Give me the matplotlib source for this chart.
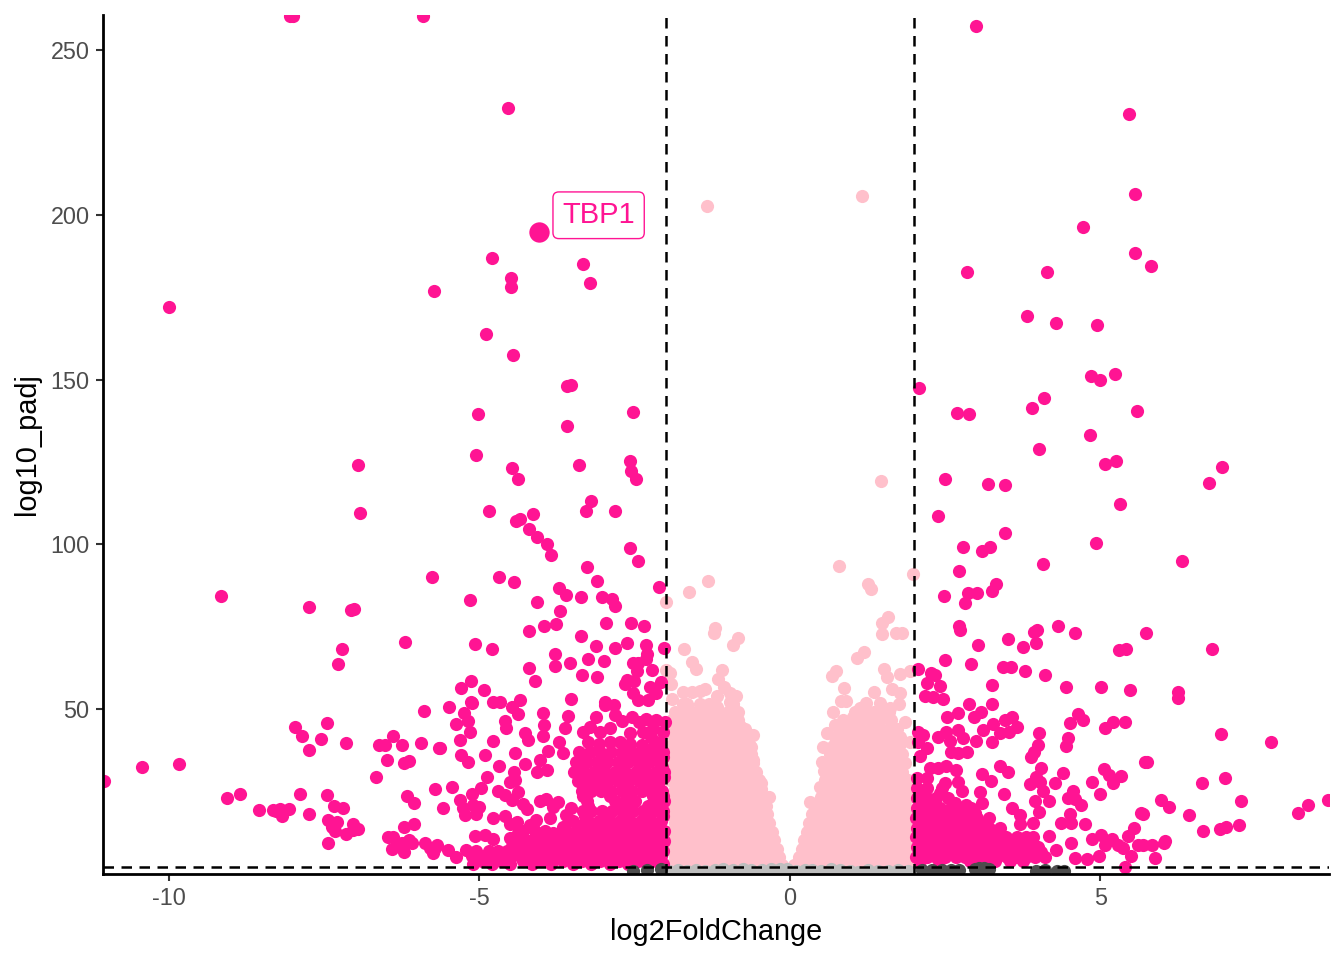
import matplotlib
matplotlib.use("Agg")
from matplotlib import pyplot as plt

plt.rcParams['font.family'] = ['Liberation Sans', 'DejaVu Sans']
plt.rcParams['axes.unicode_minus'] = False

# significant genes, left side, read one by one
sig_left = [(-8.05,260.5),(-8.0,260.5),(-5.9,260.5),(-4.54,232.5),(-4.8,187),(-4.49,181),(-4.49,178),(-3.33,185),
    (-3.22,179.3),(-5.73,177),(-10,172),(-4.9,164),(-4.46,157.5),(-3.59,148),(-3.53,148.3),(-5.02,139.6),(-2.53,140.2),
    (-3.59,136),(-5.06,127),(-2.58,125.2),(-2.56,122.2),(-2.48,119.8),(-4.48,123.2),(-4.38,119.8),(-6.96,124),(-3.4,124),
    (-3.2,113),(-3.28,110),(-2.82,110),(-4.85,110),(-6.92,109.5),(-4.41,107.2),(-4.35,107.8),(-4.13,109.1),(-4.2,104.7),
    (-4.07,102.3),(-3.91,100),(-3.85,96.8),(-2.57,98.9),(-2.44,95),(-3.27,93.2),(-3.1,88.9),(-5.77,90),(-4.69,90),
    (-4.44,88.5),(-3.72,86.8),(-3.6,84.5),(-3.36,84),(-5.15,83),(-4.08,82.4),(-3.03,84),(-2.87,83.5),(-2.82,81.4),
    (-2.1,87),(-3.7,79.7),(-3.96,75.1),(-3.77,75.8),(-4.2,73.8),(-2.96,76.2),(-2.56,76.2),(-2.35,75.3),(-3.36,72.3),
    (-5.07,69.7),(-4.8,68.3),(-3.12,69.1),(-2.82,68.5),(-2.62,70),(-2.31,69.3),(-2.03,68.5),(-3.79,66.8),(-2.3,66.8),
    (-2.32,65.3),(-3.25,65.3),(-3.0,64.5),(-3.54,63.9),(-3.79,63.2),(-4.2,62.3),(-2.52,63.9),(-2.44,63.9),(-2.46,61.6),
    (-2.22,61.8),(-3.35,60.3),(-3.11,59.7),(-4.11,58.6),(-5.13,58.4),(-5.3,56.3),(-4.92,55.9),(-2.63,58.8),(-2.51,58.6),
    (-2.66,57.5),(-2.25,56.6),(-2.07,58.3),(-2.52,55),(-2.15,55),(-4.34,52.7),(-3.52,53),(-4.78,52.2),(-4.66,52.2),
    (-5.13,52.2),(-2.98,52.2),(-5.49,50.5),(-5.12,51.7),(-4.48,50.5),(-4.37,48.4),(-5.24,48.7),(-5.18,46.4),(-5.38,45.5),
    (-5.15,43.1),(-5.31,40.6),(-5.63,38.3),(-4.58,46.3),(-4.57,44.3),(-3.98,48.7),(-3.96,45.1),(-3.97,41.9),(-4.26,42.6),
    (-4.22,40.6),(-4.78,40.2),(-3.57,47.9),(-3.62,44.1),(-3.71,39.9),(-3.9,37.3),(-3.66,36.5),(-4.43,36.5),(-5.3,36),
    (-5.19,33.8),(-4.91,36),(-4.69,32.6),(-4.27,33.2),(-4.03,34.5),(-4.08,31),(-3.91,31.5),(-4.44,31),(-4.88,29.3),
    (-4.51,27.7),(-4.43,28.4),(-5.44,26.2),(-5.72,25.7),(-4.98,25.9),(-4.7,25.1),(-4.38,24.9),(-5.12,24.2),(-5.31,22.4),
    (-4.59,23.9),(-4.48,22.4),(-5.58,20),(-5.26,19.9),(-5.0,20.3),(-5.1,20.8),(-5.23,17.8),(-5.06,18.1),(-4.29,21.2),
    (-4.24,19.6),(-4.03,22.2),(-3.92,22.6),(-3.73,21.9),(-3.81,20.3),(-3.86,16.8),(-3.52,19.9),(-3.6,17.8),(-3.65,14.3),
    (-4.78,17),(-4.59,17.5),(-4.51,15.1),(-4.39,15.8),(-4.19,14.8),(-4.09,16.3),(-4.13,13.8),(-3.81,12.3),(-5.07,11.4),
    (-4.91,11.8),(-4.78,10.4),(-4.51,10.7),(-4.38,12.4),(-5.72,7.8),(-5.51,7.2),(-5.37,5.2),(-5.21,7.2),
    (-5.89,49.5),(-7.46,45.7),(-7.97,44.5),(-7.86,41.8),(-7.55,40.8),(-7.75,37.6),(-7.14,39.6),(-6.61,39),(-6.52,39),
    (-6.39,41.9),(-6.24,39),(-5.94,39.6),(-5.65,38.1),(-6.48,34.4),(-6.22,33.7),(-6.14,34.3),(-6.66,29.4),(-6.17,23.5),
    (-6.05,21.5),(-6.06,15),(-6.22,14.1),(-6.47,11),(-6.39,11.2),(-6.33,9.2),(-6.4,7.4),(-6.22,6.7),(-6.13,10.2),
    (-6.09,9.2),(-6.25,9.2),(-5.88,9.4),(-5.8,7.7),(-5.74,6.2),(-5.69,8.7),(-10.43,32.3),(-9.83,33.3),(-11.05,28.1),
    (-9.07,23),(-8.86,24.1),(-8.55,19.3),(-8.33,19.3),(-8.21,19.5),(-8.07,19.7),(-8.17,17.6),(-8.27,19.1),(-7.89,24.3),
    (-7.75,18),(-7.45,24),(-7.34,20.6),(-7.19,20),(-7.43,16.3),(-7.29,15.8),(-7.38,14.3),(-7.33,13),(-7.44,9.2),(-7.15,12),
    (-7.03,15),(-6.95,13.6),(-7.04,13.3),(-9.16,84.3),(-7.75,81),(-7.07,80),(-7.02,80.4),(-7.21,68.2),(-7.28,63.7),(-6.2,70.3),
    (-2.98,51.2),(-2.84,51.2),(-2.82,48.2),(-2.9,44.1),(-3.13,47.7),(-3.33,43.1),(-3.22,44.6),(-3.06,43.1),(-2.44,52.8),
    (-2.28,52.8),(-2.55,47.7),(-2.31,46.9),(-2.15,46.7),(-2.01,46.2),(-2.58,42.6),(-2.36,43.1),(-2.2,44.1),(-2.9,40),
    (-2.74,40),(-2.09,40),(-2.23,41.6),(-2.7,46.5),(-2.43,46),(-2.05,43),(-3.25,40),(-3.08,39.5),(-2.57,39.5),(-2.38,39),(-2.2,38.5)]

# significant genes, right side
sig_right = [(3.0,257.3),(5.46,230.6),(5.56,206.3),(4.72,196.3),(5.56,188.4),(5.81,184.5),(2.85,182.7),(4.14,182.7),
    (3.82,169.3),(4.28,167.2),(4.94,166.6),(2.08,147.5),(4.85,151),(4.99,149.9),(5.23,151.7),(4.09,144.4),(3.9,141.4),
    (2.69,139.8),(2.88,139.5),(5.59,140.4),(4.83,133.2),(4.01,129),(5.07,124.4),(5.25,125.3),(6.96,123.4),(2.5,119.8),
    (3.19,118.3),(3.46,118),(6.75,118.6),(5.31,112.2),(2.38,108.6),(3.46,103.4),(4.93,100.4),(2.79,99.2),(3.22,99.2),
    (3.09,98),(4.07,94),(6.31,94.9),(2.72,91.9),(3.32,88),(2.87,85.2),(3.01,85.2),(2.48,84.3),(2.82,82.2),(3.25,85.8),
    (2.72,75.2),(2.74,74),(3.51,71.3),(3.93,73.4),(3.98,74),(3.96,70),(4.32,75.2),(4.59,73),(5.73,73),(3.03,69.4),
    (3.75,68.8),(5.3,67.9),(5.41,68.2),(6.8,68.2),(2.91,63.7),(3.43,62.8),(3.56,62.8),(3.78,61.5),(4.11,60.3),(3.25,57.3),
    (4.44,56.7),(5.01,56.7),(5.48,55.7),(6.25,55.1),(6.25,53.4),(2.21,58),(2.42,57),(2.17,54),(2.31,53.7),(2.46,52.9),
    (2.27,61),(2.5,64.9),(2.33,60.4),(2.06,62),(2.88,51.5),(3.26,51.5),(2.53,47.7),(2.71,48.7),(3.08,49),(2.97,47.5),
    (3.46,46.7),(3.58,47.5),(3.65,44.6),(3.27,45.4),(3.11,43.6),(2.7,43.6),(2.79,41.1),(2.51,43.1),(2.38,41.4),(2.58,40.4),
    (2.07,43.1),(2.15,42.1),(2.07,40.1),(2.2,38.1),(2.09,35.7),(2.99,40.4),(3.25,39.9),(3.38,42.6),(3.52,43.1),(4.01,42.6),
    (4.0,39),(3.93,37),(3.88,35.3),(2.59,37),(2.71,36.7),(2.85,37),(4.64,48.5),(4.72,46.7),(4.51,45.7),(4.48,41.1),
    (4.45,38.9),(5.21,46.2),(5.39,46.2),(5.07,44.3),(5.71,33.8),(3.38,32.7),(3.51,30.9),(3.1,30.2),(3.24,28.1),(4.04,32),
    (4.39,30.7),(5.06,31.7),(5.14,30),(5.33,29.7),(5.21,27.4),(4.86,27.7),(4.99,24.3),(3.97,29.4),(3.86,27.2),(4.03,27.9),
    (4.27,27.6),(4.08,25.2),(4.17,22.2),(3.95,22),(4.01,18.8),(4.56,25.2),(4.47,23.1),(4.59,22.6),(4.68,21),(4.51,18.1),
    (4.36,15.3),(4.52,15.3),(4.75,15),(3.92,15.3),(3.45,24.1),(3.06,24.9),(3.1,21.4),(2.83,20.9),(2.77,25.1),(2.7,27.9),
    (2.67,31.5),(2.52,32.8),(2.39,32),(2.25,32),(2.5,27.4),(3.57,19.9),(3.7,17.8),(3.7,15),(5.66,18.3),(5.54,13.8),
    (5.44,11.4),(5.01,11.7),(4.86,10.4),(5.19,10.4),(5.07,8.7),(5.29,8.7),(5.37,7.7),(5.61,8.7),(5.5,5.4),(5.39,2.1),
    (4.98,5.5),(4.78,4.4),(4.52,9.2),(4.17,11.4),(4.29,7.2),(4.59,4.7),(7.75,40),(6.94,42.4),(7.0,29),(6.63,27.5),
    (5.97,22.4),(6.1,20.3),(5.68,18.1),(6.43,17.8),(7.26,22.1),(8.34,20.9),(8.66,22.4),(8.18,18.4),(7.23,14.8),(6.92,13.6),
    (7.02,14.2),(6.65,13),(6.02,9.3),(5.88,4.8),(5.83,8.7),(5.68,8.7),(5.75,33.9),(6.04,10)]

# dense parts, one row of fold changes per padj level
core_left_y = [3, 4, 5.5, 7, 8.5, 10, 11.5, 13, 14.5, 16, 17.5, 19, 20.5, 22, 23.5, 25, 26.5, 28, 29.5, 31, 32.5, 34, 35.5, 37]
core_left_x = [
    [-5.1,-4.8,-4.5,-4.15,-3.85,-3.5,-3.2,-2.9,-2.6,-2.3,-2.05],
    [-4.95,-4.65,-4.3,-4,-3.65,-3.35,-3.05,-2.75,-2.45,-2.15],
    [-5.12,-4.9,-4.75,-4.6,-4.47,-4.32,-4.18,-4.04,-3.9,-3.74,-3.58,-3.42,-3.27,-3.12,-2.96,-2.8,-2.67,-2.52,-2.38,-2.22,-2.08],
    [-5.05,-4.85,-4.7,-4.55,-4.4,-4.25,-4.1,-3.95,-3.8,-3.65,-3.5,-3.35,-3.18,-3.02,-2.85,-2.68,-2.52,-2.35,-2.18,-2.04],
    [-4.48,-4.3,-4.16,-4.02,-3.87,-3.72,-3.57,-3.42,-3.26,-3.1,-2.94,-2.78,-2.6,-2.44,-2.28,-2.12],
    [-4.35,-4.2,-4.05,-3.9,-3.75,-3.6,-3.45,-3.3,-3.14,-2.97,-2.8,-2.63,-2.47,-2.3,-2.14,-2.03],
    [-4.0,-3.84,-3.68,-3.53,-3.38,-3.22,-3.06,-2.88,-2.72,-2.55,-2.38,-2.22,-2.06],
    [-4.3,-4.1,-3.95,-3.6,-3.45,-3.27,-3.1,-2.93,-2.76,-2.6,-2.43,-2.27,-2.1,-2.03],
    [-3.4,-3.17,-3.0,-2.85,-2.68,-2.52,-2.35,-2.18],
    [-3.5,-3.25,-3.08,-2.9,-2.74,-2.57,-2.4,-2.23,-2.08],
    [-3.3,-2.98,-2.65,-2.3,-2.05],
    [-3.33,-3.2,-3.02,-2.86,-2.7,-2.52,-2.36,-2.2,-2.04],
    [-3.25,-2.78,-2.6,-2.28,-2.1],
    [-3.27,-2.82,-2.66,-2.5,-2.14,-2.03],
    [-3.33,-2.9,-2.58,-2.2,-2.05],
    [-3.35,-3.2,-3.04,-2.88,-2.7,-2.54,-2.38,-2.22,-2.06],
    [-3.3,-2.96,-2.62,-2.3,-2.12],
    [-3.42,-3.28,-3.1,-2.93,-2.76,-2.6,-2.43,-2.26,-2.1],
    [-3.36,-3.02,-2.68,-2.35,-2.03],
    [-3.47,-3.32,-3.15,-2.98,-2.82,-2.65,-2.48,-2.32,-2.15,-2.03],
    [-3.38,-3.06,-2.72,-2.4,-2.06],
    [-3.44,-3.27,-3.1,-2.94,-2.77,-2.6,-2.44,-2.27,-2.1],
    [-3.32,-2.98,-2.64,-2.33,-2.04],
    [-3.4,-3.22,-3.05,-2.88,-2.7,-2.55,-2.38,-2.2,-2.05],
]
core_right_y = [4, 5, 6.5, 8, 9.5, 11, 12.5, 14, 15.5, 17, 18.5, 20, 21.5, 23, 24.5, 26, 29]
core_right_x = [
    [2.1,2.4,2.9,3.1,3.3,3.55,3.75],
    [2.03,2.2,2.35,2.5,2.67,2.82,3,3.17,3.33,3.5,3.65,3.8,3.95,4.1],
    [2.12,2.28,2.42,2.58,2.75,2.92,3.08,3.25,3.42,3.58,3.72,3.88,4.05],
    [2.04,2.2,2.36,2.52,2.68,2.85,3.02,3.18,3.35,3.52,3.68,3.85,4.0],
    [2.1,2.28,2.44,2.6,2.76,2.93,3.1,3.26,3.42,3.58,3.72,3.88],
    [2.03,2.19,2.34,2.5,2.66,2.83,3,3.16,3.32,3.48,3.65,3.8,3.92],
    [2.12,2.3,2.46,2.62,2.78,2.94,3.08,3.28],
    [2.05,2.22,2.38,2.55,2.72,2.88,3.05,3.2,3.38],
    [2.14,2.3,2.46,2.63,2.8,2.96,3.12],
    [2.03,2.2,2.35,2.52,2.7,2.86,3.02,3.2],
    [2.1,2.28,2.46,2.62,2.78,2.98],
    [2.05,2.22,2.42,2.6,2.78,2.92],
    [2.12,2.34,2.66],
    [2.05,2.2,2.35,2.55],
    [2.1,2.42],
    [2.05,2.2,2.45],
    [2.05,2.2],
]

# not past the fold change cut, scattered ones on the edges
pale_pts = [(-1.34,202.7),(1.16,205.7),(1.47,119.2),(-1.32,89),(-1.62,85.5),(-1.99,82.4),(0.79,93.5),(1.26,87.9),(1.3,86.4),
    (1.98,91),(-1.21,74.7),(-1.23,73.2),(-0.84,71.6),(-0.91,69.4),(-1.71,68.3),(-1.57,64.4),(-1.51,62.1),(-1.1,61.8),
    (-1.16,59),(-1.93,61),(-1.99,61.8),(-1.92,57.6),(-1.06,56.8),(-1.18,54),(-0.97,52.2),(-0.87,54),(-0.97,54.8),
    (-1.72,55.3),(-1.57,55.3),(-1.45,55.6),(-1.37,56),(-1.9,53),(-1.72,51.5),(-1.45,51.5),(-1.18,50.7),(-1.8,48.7),
    (-1.58,49.2),(-1.4,48.7),(-1.05,48.2),(-0.83,49.2),(-0.8,44.9),(-0.6,42.1),(-0.62,38.6),(-0.59,34.5),(-0.46,27.6),
    (-0.33,23.4),(1.2,67.4),(1.08,65.6),(1.58,78),(1.48,76.2),(1.49,72.8),(1.71,73.2),(1.81,73.2),(0.74,61.6),(0.67,60),
    (1.51,62.1),(1.57,59.8),(1.64,56),(1.77,55),(1.76,51.5),(1.85,46),(1.78,60.6),(1.93,61.5),(0.87,56.3),(0.91,52.5),
    (0.83,52.5),(1.35,55.3),(0.69,49.1),(1.02,47.7),(1.13,50.2),(1.23,51.7),(1.45,51.7),(1.61,50.2),(0.72,45.1),(0.59,42.6),
    (0.91,42.6),(1.58,43.6),(1.77,41.6),(1.93,40.1),(0.54,38.6),(0.51,34),(0.55,31.3),(0.48,26.4),(0.32,21.9)]

pale_left_y = [2.5, 5, 7.6, 10.2, 12.8, 15.4, 18, 20.6, 23.2, 25.8, 28.4, 31, 33.6, 36.2, 38.8, 41.4, 44, 46.6, 49, 51.6]
pale_left_x = [
    [-1.93,-1.76,-1.6,-1.45,-1.28,-1.12,-.97,-.8,-.64,-.49,-.33,-.2,-.12],
    [-1.85,-1.69,-1.52,-1.36,-1.2,-1.04,-.88,-.72,-.57,-.41,-.27,-.17],
    [-1.93,-1.77,-1.6,-1.44,-1.28,-1.12,-.96,-.8,-.64,-.48,-.33,-.2],
    [-1.86,-1.69,-1.53,-1.37,-1.21,-1.05,-.89,-.73,-.57,-.41,-.25],
    [-1.94,-1.77,-1.61,-1.45,-1.29,-1.13,-.97,-.81,-.65,-.49,-.36,-.29],
    [-1.85,-1.68,-1.52,-1.36,-1.2,-1.04,-.88,-.72,-.56,-.42,-.33],
    [-1.93,-1.76,-1.6,-1.44,-1.28,-1.12,-.96,-.8,-.64,-.5,-.37],
    [-1.86,-1.7,-1.54,-1.38,-1.22,-1.06,-.9,-.74,-.58,-.45,-.38],
    [-1.94,-1.78,-1.62,-1.46,-1.3,-1.14,-.98,-.82,-.66,-.52,-.41],
    [-1.85,-1.69,-1.53,-1.37,-1.21,-1.05,-.89,-.73,-.6,-.47],
    [-1.93,-1.77,-1.61,-1.45,-1.29,-1.13,-.97,-.81,-.66,-.5],
    [-1.86,-1.7,-1.54,-1.38,-1.22,-1.06,-.9,-.75,-.62,-.55],
    [-1.94,-1.78,-1.62,-1.46,-1.3,-1.14,-.98,-.83,-.7,-.59],
    [-1.85,-1.69,-1.53,-1.37,-1.21,-1.05,-.9,-.76,-.62],
    [-1.93,-1.77,-1.61,-1.45,-1.29,-1.13,-.97,-.83,-.7,-.65],
    [-1.86,-1.7,-1.54,-1.38,-1.22,-1.06,-.92,-.78,-.67],
    [-1.93,-1.77,-1.61,-1.45,-1.29,-1.13,-.98,-.85,-.72],
    [-1.9,-1.74,-1.58,-1.42,-1.26,-1.1,-.95,-.84],
    [-1.85,-1.7,-1.5,-1.34,-1.16,-1.0],
    [-1.65,-1.3,-.92],
]
pale_right_y = [2.5, 5, 7.6, 10.2, 12.8, 15.4, 18, 20.6, 23.2, 25.8, 28.4, 31, 33.6, 36.2, 38.8, 41.4, 44, 46.6, 49]
pale_right_x = [
    [.07,.18,.33,.49,.65,.81,.97,1.13,1.29,1.45,1.61,1.77,1.93],
    [.14,.26,.41,.57,.73,.89,1.05,1.21,1.37,1.53,1.69,1.85],
    [.19,.33,.49,.65,.81,.97,1.13,1.29,1.45,1.61,1.77,1.93],
    [.23,.41,.57,.73,.89,1.05,1.21,1.37,1.53,1.69,1.85],
    [.27,.35,.49,.65,.81,.97,1.13,1.29,1.45,1.61,1.77,1.93],
    [.31,.42,.57,.73,.89,1.05,1.21,1.37,1.53,1.69,1.85],
    [.36,.49,.65,.81,.97,1.13,1.29,1.45,1.61,1.77,1.93],
    [.42,.57,.73,.89,1.05,1.21,1.37,1.53,1.69,1.85],
    [.5,.65,.81,.97,1.13,1.29,1.45,1.61,1.77,1.92],
    [.55,.73,.89,1.05,1.21,1.37,1.53,1.69,1.85],
    [.56,.65,.81,.97,1.13,1.29,1.45,1.61,1.77,1.9],
    [.6,.73,.89,1.05,1.21,1.37,1.53,1.65,1.8],
    [.6,.68,.81,.97,1.13,1.29,1.45,1.6,1.72,1.86],
    [.65,.78,.89,1.05,1.21,1.37,1.53,1.65,1.8],
    [.69,.82,.97,1.13,1.29,1.45,1.6,1.76],
    [.72,.89,1.05,1.21,1.37,1.5,1.64],
    [.8,.97,1.13,1.29,1.45,1.6,1.72],
    [.85,1.0,1.15,1.3,1.45,1.62],
    [1.05,1.2,1.35,1.5,1.6],
]

# below the padj cut
grey_light_x = [-1.95,-1.8,-1.65,-1.52,-1.36,-1.2,-1.08,-.92,-.76,-.62,-.45,-.3,-.16,-.04,.1,.24,.36,.5,.66,.8,.96,1.1,1.25,1.42,1.58,1.74,1.9]
grey_light_y = [.9,1,.7,1.2,.8,1,1.5,1.2,1.5,1,1.1,1.3,1.4,1.3,.7,1,1.1,.9,1.3,1,.7,.6,1.1,.8,.9,1.2,.9]
grey_dark_x = [-2.52,-2.3,-2.07,2.12,2.28,2.45,2.6,2.72,2.98,3.05,3.12,3.2,3.97,4.1,4.3,4.42]
grey_dark_y = [.8,1.2,1.3,1,1,1,1.1,1,1.3,1.6,1.6,1.3,.8,1,.9,.9]

gene_x = -4.04
gene_y = 194.8
gene_name = 'TBP1'
x_ticks = [-10, -5, 0, 5]
y_ticks = [50, 100, 150, 200, 250]


def flatten(rows_x, rows_y):
    xs, ys = [], []
    for row, level in zip(rows_x, rows_y):
        xs += row
        ys += [level] * len(row)
    return xs, ys


fig = plt.figure(figsize=(13.44, 9.6), dpi=100)
ax = fig.add_axes([103/1344, 1-873.5/960, 1226/1344, 858.5/960])

pale_x, pale_y = flatten(pale_left_x + pale_right_x, pale_left_y + pale_right_y)
pale_x += [p[0] for p in pale_pts]
pale_y += [p[1] for p in pale_pts]
ax.scatter(pale_x, pale_y, s=90, color='#FFC0CB', linewidths=0, zorder=2)
ax.scatter(grey_light_x, grey_light_y, s=90, color='#BEBEBE', linewidths=0, zorder=2.5)

core_x, core_y = flatten(core_left_x + core_right_x, core_left_y + core_right_y)
sig_pts = sig_left + sig_right
ax.scatter(core_x + [p[0] for p in sig_pts], core_y + [p[1] for p in sig_pts], s=90, color='#FF1493', linewidths=0, zorder=3)
ax.scatter(grey_dark_x, grey_dark_y, s=90, color='#4D4D4D', linewidths=0, zorder=3.5)
ax.scatter([gene_x], [gene_y], s=215, color='#FF1493', linewidths=0, zorder=4)

ax.axvline(-2, color='black', lw=1.8, dashes=(4.2, 3), zorder=5)
ax.axvline(2, color='black', lw=1.8, dashes=(4.2, 3), zorder=5)
ax.axhline(1.9, color='black', lw=1.8, dashes=(4.2, 3), zorder=5)

ax.text(-3.08, 199.9, gene_name, color='#FF1493', fontsize=21, ha='center', va='center', zorder=6,
        bbox=dict(boxstyle='round,pad=0.32,rounding_size=0.2', fc='white', ec='#FF1493', lw=1.0))

ax.set_xlim(-11.06, 8.68)
ax.set_ylim(0.06, 260.7)
ax.set_xticks(x_ticks)
ax.set_yticks(y_ticks)
ax.tick_params(labelsize=16.8, labelcolor='#4D4D4D', color='#333333', length=5, width=1.5, pad=4.7)
ax.spines['top'].set_visible(False)
ax.spines['right'].set_visible(False)
ax.spines['left'].set_linewidth(2)
ax.spines['bottom'].set_linewidth(2)
for side in ['left', 'bottom']:
    ax.spines[side].set_zorder(7)

ax.set_xlabel('log2FoldChange', fontsize=20.8)
ax.set_ylabel('log10_padj', fontsize=20.8)
ax.xaxis.set_label_coords(0.5, -0.0515)
ax.yaxis.set_label_coords(-0.0505, 0.5)

fig.savefig('out.png', dpi=100)
